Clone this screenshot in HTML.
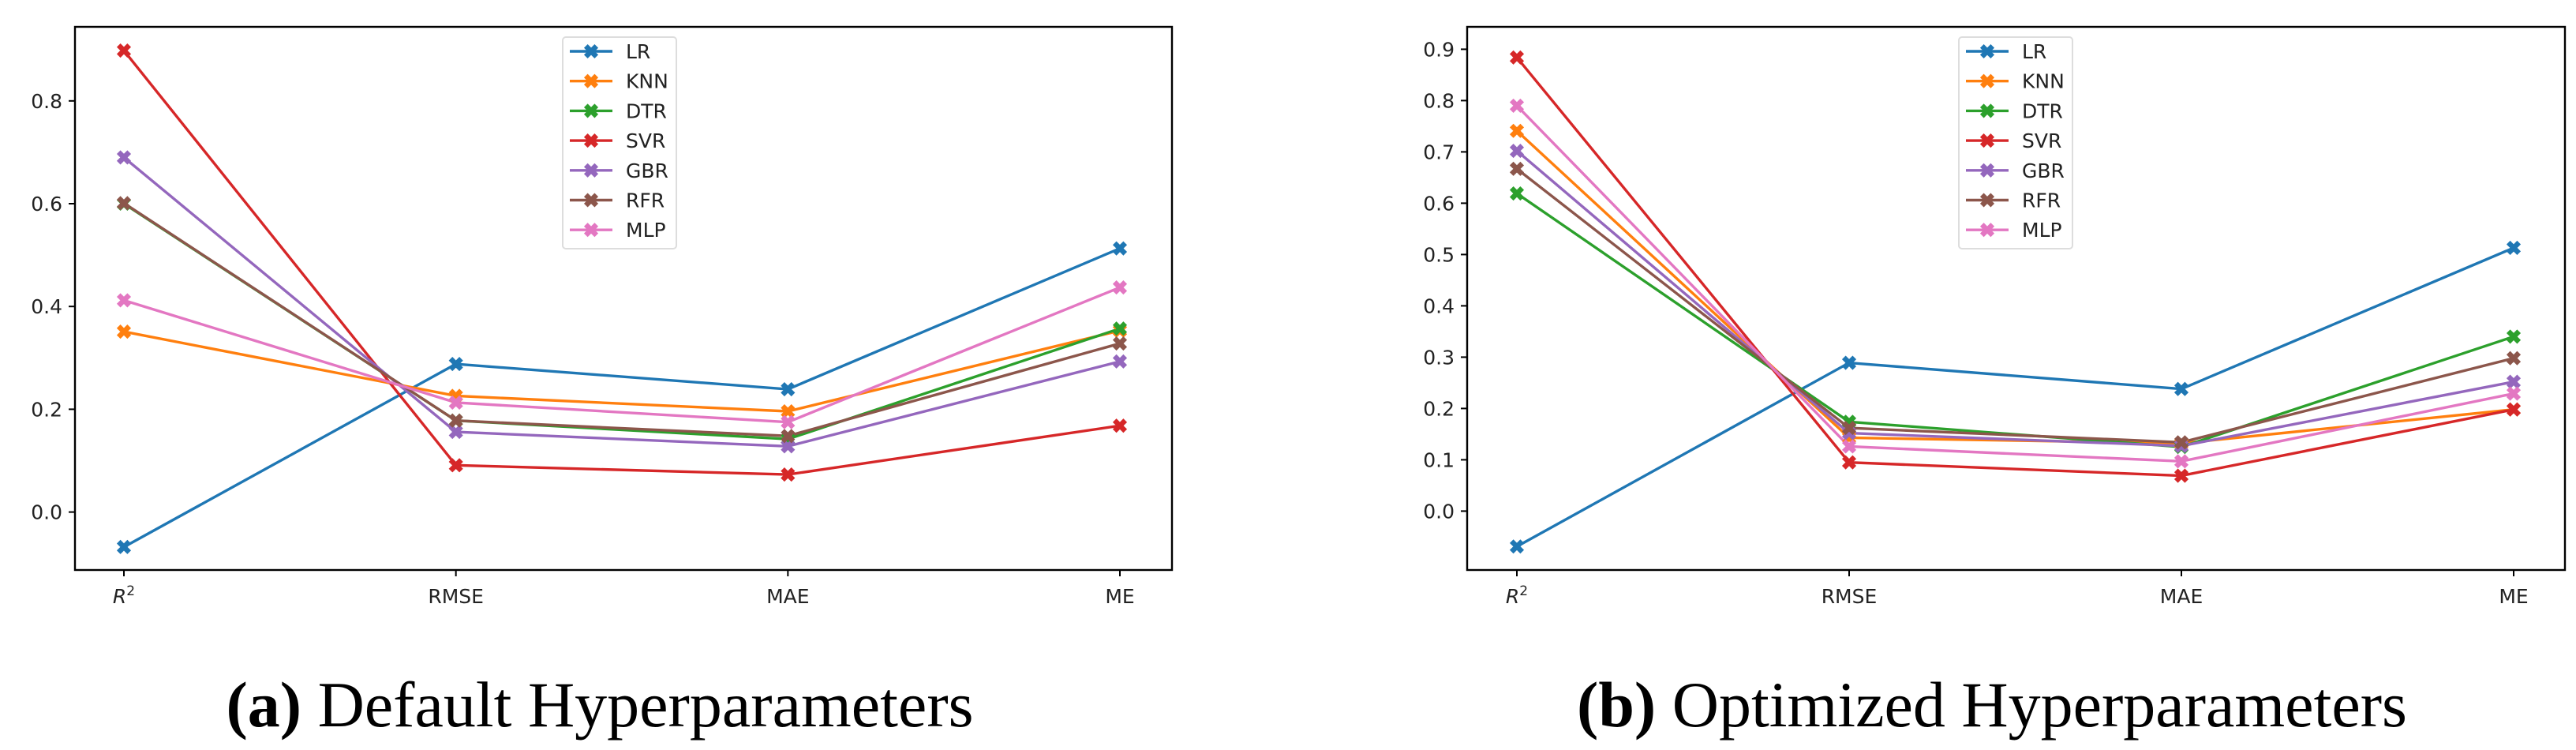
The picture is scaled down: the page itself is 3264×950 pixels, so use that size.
<!DOCTYPE html>
<html><head><meta charset="utf-8"><style>
html,body{margin:0;padding:0;background:#fff;width:3264px;height:950px;overflow:hidden}
svg{display:block}
text{font-family:"DejaVu Sans","Liberation Sans",sans-serif;fill:#222}
.cap{font-family:"Liberation Serif",serif;fill:#000}
</style></head><body>
<svg id="chart" width="3264" height="950" xmlns="http://www.w3.org/2000/svg"></svg>
<script>
const categories = ["R2","RMSE","MAE","ME"];
const seriesNames = ["LR","KNN","DTR","SVR","GBR","RFR","MLP"];
const colors = ["#1f77b4","#ff7f0e","#2ca02c","#d62728","#9467bd","#8c564b","#e377c2"];
const defaultLR  = [-0.068,0.288,0.239,0.513];
const defaultKNN = [0.351,0.226,0.196,0.353];
const defaultDTR = [0.600,0.178,0.142,0.357];
const defaultSVR = [0.898,0.091,0.073,0.168];
const defaultGBR = [0.690,0.156,0.128,0.293];
const defaultRFR = [0.601,0.178,0.148,0.328];
const defaultMLP = [0.412,0.213,0.175,0.437];
const optLR  = [-0.069,0.289,0.238,0.513];
const optKNN = [0.741,0.143,0.132,0.198];
const optDTR = [0.619,0.174,0.125,0.340];
const optSVR = [0.884,0.095,0.069,0.198];
const optGBR = [0.702,0.152,0.127,0.252];
const optRFR = [0.667,0.162,0.134,0.298];
const optMLP = [0.790,0.126,0.097,0.229];
const ticksA = [0.0,0.2,0.4,0.6,0.8];
const ticksB = [0.0,0.1,0.2,0.3,0.4,0.5,0.6,0.7,0.8,0.9];

const NS="http://www.w3.org/2000/svg";
const svg=document.getElementById('chart');
function mk(tag,attrs,parent){const e=document.createElementNS(NS,tag);for(const k in attrs)e.setAttribute(k,attrs[k]);(parent||svg).appendChild(e);return e;}
function marker(g,x,y,c){
  const s=8,t=3.6;
  const d=`M${x-s},${y-s+t}L${x-s+t},${y-s}L${x},${y-t}L${x+s-t},${y-s}L${x+s},${y-s+t}L${x+t},${y}L${x+s},${y+s-t}L${x+s-t},${y+s}L${x},${y+t}L${x-s+t},${y+s}L${x-s},${y+s-t}L${x-t},${y}Z`;
  const m=mk('path',{d:d,fill:c,stroke:c,'stroke-width':1.5},g);
  
  
}
function panel(cfg){
  const g=mk('g',{});
  
  
  const xs=i=>cfg.x0+i*(cfg.x3-cfg.x0)/3;
  const ys=v=>cfg.y0-v*cfg.k;
  const f=mk('rect',{x:cfg.L,y:cfg.T,width:cfg.R-cfg.L,height:cfg.B-cfg.T,fill:'none',stroke:'#000','stroke-width':2.4},g);
  
  cfg.ticks.forEach(v=>{
    const y=ys(v);
    const tl=mk('line',{x1:cfg.L-8,x2:cfg.L,y1:y,y2:y,stroke:'#000','stroke-width':2},g);
    
    const tx=mk('text',{x:cfg.L-16,y:y+9,'text-anchor':'end','font-size':25},g);
    tx.textContent=v.toFixed(1);
    
  });
  categories.forEach((c,i)=>{
    const x=xs(i);
    const tl=mk('line',{x1:x,x2:x,y1:cfg.B,y2:cfg.B+8,stroke:'#000','stroke-width':2},g);
    
    const tx=mk('text',{x:x,y:cfg.B+42,'text-anchor':'middle','font-size':25},g);
    if(c==='R2'){tx.innerHTML='<tspan font-style="italic">R</tspan><tspan dy="-10" font-size="17">2</tspan>';}
    else tx.textContent=c;
    
  });
  cfg.series.forEach((vals,si)=>{
    const c=colors[si];
    const pts=vals.map((v,i)=>xs(i)+','+ys(v)).join(' ');
    const pl=mk('polyline',{points:pts,fill:'none',stroke:c,'stroke-width':3.4},g);
    
    
  });
  cfg.series.forEach((vals,si)=>vals.forEach((v,i)=>marker(g,xs(i),ys(v),colors[si])));
  const lg=mk('g',{},g);
  
  mk('rect',{x:cfg.lx,y:47,width:144,height:268,rx:4,fill:'#fff',stroke:'#ddd','stroke-width':2},lg);
  seriesNames.forEach((n,si)=>{
    const y=65+si*37.7;
    const e=mk('g',{},lg);
    
    mk('line',{x1:cfg.lx+9,x2:cfg.lx+63,y1:y,y2:y,stroke:colors[si],'stroke-width':3.4},e);
    marker(e,cfg.lx+36,y,colors[si]);
    const t=mk('text',{x:cfg.lx+80,y:y+9,'font-size':25},e);
    t.textContent=n;
  });
  const cp=mk('text',{x:cfg.cx,y:920,'text-anchor':'middle','font-size':82,class:'cap'});
  cp.innerHTML='<tspan font-weight="bold">('+cfg.letter+')</tspan> '+cfg.caption;
  
}
panel({name:'panel-default',L:95,R:1485,T:34,B:722,x0:157,x3:1419,y0:648.6,k:651,ticks:ticksA,
  series:[defaultLR,defaultKNN,defaultDTR,defaultSVR,defaultGBR,defaultRFR,defaultMLP],lx:713,cx:760,letter:'a',caption:'Default Hyperparameters'});
panel({name:'panel-optimized',L:1859,R:3250,T:34,B:722,x0:1922,x3:3185,y0:647.4,k:650,ticks:ticksB,
  series:[optLR,optKNN,optDTR,optSVR,optGBR,optRFR,optMLP],lx:2482,cx:2524,letter:'b',caption:'Optimized Hyperparameters'});
</script>
</body></html>
